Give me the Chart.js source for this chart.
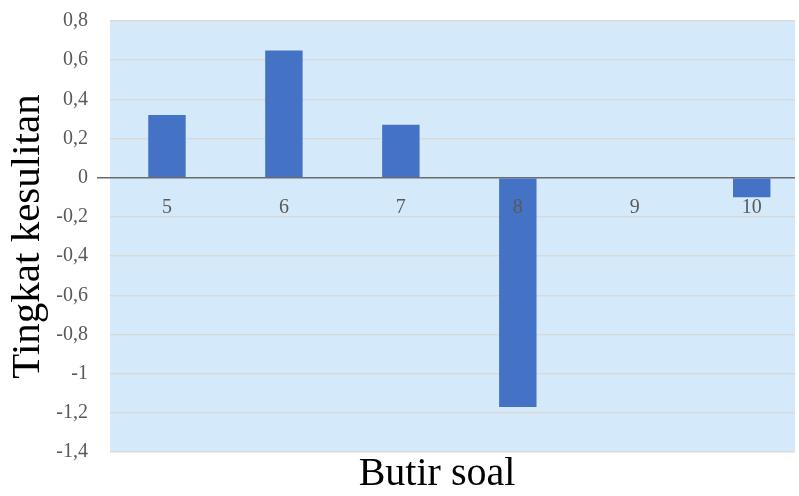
<!DOCTYPE html>
<html>
<head>
<meta charset="utf-8">
<script src="https://cdn.jsdelivr.net/npm/chart.js@4"></script>
<style>
  html, body { margin: 0; padding: 0; background: #fff; }
  #wrap { width: 799px; height: 496px; }
</style>
</head>
<body>
<div id="wrap"><canvas id="myChart" width="799" height="496"></canvas></div>
<script>
const items = [5, 6, 7, 8, 9, 10]
const values = [0.32, 0.65, 0.27, -1.17, 0, -0.10]
const yMin = -1.4
const yMax = 0.8
const yStep = 0.2

const serif = '"Liberation Serif", "Times New Roman", serif'
const grey = '#595959'

// fills the plot area with the pale blue
const plotBg = {
    id: 'plotBg',
    beforeDraw(chart) {
        let { ctx, chartArea } = chart
        ctx.save()
        ctx.fillStyle = '#d4eafb'
        ctx.fillRect(chartArea.left, chartArea.top, chartArea.right - chartArea.left, chartArea.bottom - chartArea.top)
        ctx.restore()
    }
}

// x axis title sits a bit left of the plot centre in the original
const xTitle = {
    id: 'xTitle',
    afterDraw(chart) {
        let { ctx } = chart
        ctx.save()
        ctx.font = '40px ' + serif
        ctx.fillStyle = '#000'
        ctx.textAlign = 'center'
        ctx.textBaseline = 'middle'
        ctx.fillText('Butir soal', 437, 474)
        ctx.restore()
    }
}

const isZero = ctx => ctx.tick && Math.abs(ctx.tick.value) < 1e-9

const config = {
    type: 'bar',
    data: {
        datasets: [{
            data: items.map((x, i) => ({ x: x, y: values[i] })),
            backgroundColor: '#4472c4',
            borderWidth: 0,
            categoryPercentage: 1,
            barPercentage: 0.32
        }]
    },
    options: {
        responsive: false,
        animation: false,
        layout: { padding: { top: 20, right: 4, left: 0, bottom: 44 } },
        plugins: {
            legend: { display: false },
            tooltip: { enabled: false }
        },
        scales: {
            x: {
                type: 'linear',
                min: 4.513,
                max: 10.37,
                offset: false,
                position: { y: 0 },
                grid: { display: false },
                border: { display: false },
                afterBuildTicks(scale) {
                    scale.ticks = items.map(v => ({ value: v }))
                },
                ticks: {
                    z: 1,
                    color: grey,
                    padding: 10,
                    autoSkip: false,
                    maxRotation: 0,
                    font: { family: serif, size: 20 },
                    callback: v => String(v)
                }
            },
            y: {
                min: yMin,
                max: yMax,
                border: { display: false },
                grid: {
                    color: ctx => isZero(ctx) ? '#6b6b6b' : '#d9d9d9',
                    tickColor: ctx => isZero(ctx) ? '#6b6b6b' : 'rgba(0,0,0,0)',
                    tickLength: 13,
                    lineWidth: 1.5
                },
                ticks: {
                    stepSize: yStep,
                    color: grey,
                    padding: 9,
                    font: { family: serif, size: 20 },
                    callback: v => Number(v.toFixed(1)).toString().replace('.', ',')
                },
                title: {
                    display: true,
                    text: 'Tingkat kesulitan',
                    color: '#000',
                    font: { family: serif, size: 41 },
                    padding: { top: 4, bottom: 0 }
                },
                afterFit(scale) { scale.width = 110 }
            }
        }
    },
    plugins: [plotBg, xTitle]
}

const myChart = new Chart(document.getElementById('myChart').getContext('2d'), config)
</script>
</body>
</html>
